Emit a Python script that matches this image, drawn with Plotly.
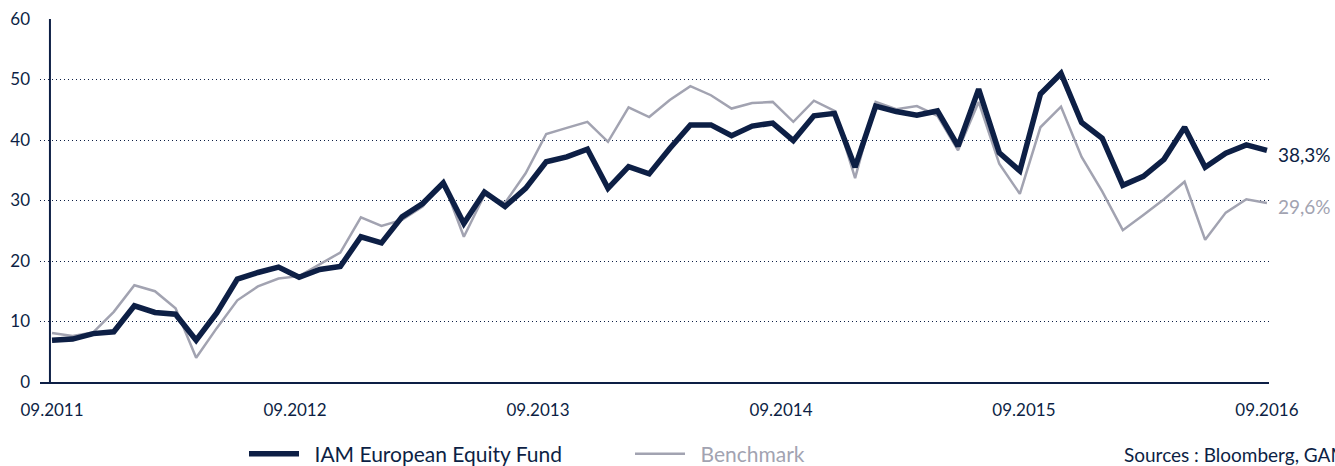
import plotly.graph_objects as go

# ---- data ----
fund = [6.9, 7.1, 8.0, 8.3, 12.6, 11.5, 11.2, 6.9, 11.4, 17.0,
        18.1, 19.0, 17.3, 18.6, 19.1, 24.0, 23.0, 27.3, 29.5, 32.9,
        26.2, 31.4, 29.0, 32.0, 36.4, 37.2, 38.5, 32.0, 35.6, 34.4,
        38.6, 42.5, 42.5, 40.7, 42.3, 42.8, 39.9, 44.0, 44.4, 35.5,
        45.6, 44.7, 44.1, 44.8, 39.0, 48.4, 37.9, 34.9, 47.6, 51.0,
        42.9, 40.3, 32.5, 34.0, 36.8, 42.1, 35.5, 37.8, 39.2, 38.3]
benchmark = [8.1, 7.6, 8.2, 11.6, 16.0, 15.0, 12.2, 4.0, 8.9, 13.5,
             15.8, 17.1, 17.5, 19.5, 21.4, 27.2, 25.8, 26.8, 29.0, 33.1,
             24.0, 30.9, 29.6, 34.5, 41.0, 42.0, 43.0, 39.7, 45.4, 43.8,
             46.6, 48.9, 47.4, 45.2, 46.1, 46.3, 43.0, 46.5, 44.8, 33.7,
             46.3, 45.1, 45.6, 44.0, 38.3, 46.3, 36.1, 31.1, 42.1, 45.5,
             37.2, 31.5, 25.1, 27.6, 30.2, 33.1, 23.5, 28.0, 30.2, 29.6]
tick_labels = ["09.2011", "09.2012", "09.2013", "09.2014", "09.2015", "09.2016"]
y_ticks = [0, 10, 20, 30, 40, 50, 60]
series_names = ["IAM European Equity Fund", "Benchmark"]
source_text = "Sources\u202f: Bloomberg, GAM"

NAVY = "#0d1f45"
GREY = "#a2a3b1"
FONT = "Lato"

n = len(fund)
x = list(range(n))
tick_pos = [k * (n - 1) / (len(tick_labels) - 1) for k in range(len(tick_labels))]

W, H = 1335, 466
L, R, T, B = 40, 66, 19, 84
pw = W - L - R
ph = H - T - B

def px_x(p):
    return (p - L) / pw

def px_y(p):
    return (H - B - p) / ph

GAP = "\u2002"  # small gap between legend sample and its text

fig = go.Figure()
fig.add_trace(go.Scatter(
    x=x, y=benchmark, mode="lines",
    name=f"<span style='color:{GREY}'>{GAP}{series_names[1]}</span>",
    line=dict(color=GREY, width=2.5), legendrank=2, hoverinfo="skip"))
fig.add_trace(go.Scatter(
    x=x, y=fund, mode="lines", name=f"{GAP}{series_names[0]}",
    line=dict(color=NAVY, width=5.5), legendrank=1, hoverinfo="skip"))

def fmt(v):
    return f"{v:.1f}%".replace(".", ",")

fig.add_annotation(x=x[-1], y=fund[-1], xref="x", yref="y", text=fmt(fund[-1]),
                   showarrow=False, xanchor="left", yanchor="middle", xshift=9, yshift=-4,
                   font=dict(family=FONT, size=19, color=NAVY))
fig.add_annotation(x=x[-1], y=benchmark[-1], xref="x", yref="y", text=fmt(benchmark[-1]),
                   showarrow=False, xanchor="left", yanchor="middle", xshift=9, yshift=-4,
                   font=dict(family=FONT, size=19, color=GREY))
fig.add_annotation(x=px_x(1122), y=px_y(454), xref="paper", yref="paper", text=source_text,
                   showarrow=False, xanchor="left", yanchor="middle",
                   font=dict(family=FONT, size=19, color=NAVY))

# vertical axis line (slightly right of the grid start, as in the reference)
fig.add_shape(type="line", xref="x", yref="y", x0=-0.1, x1=-0.1, y0=0, y1=60,
              line=dict(color=NAVY, width=2), layer="above")

fig.update_layout(
    width=W, height=H,
    margin=dict(l=L, r=R, t=T, b=B, pad=0, autoexpand=False),
    paper_bgcolor="white", plot_bgcolor="white",
    showlegend=True,
    legend=dict(orientation="h", xref="container", yref="container",
                x=244 / W, xanchor="left",
                y=(H - 454) / H, yanchor="middle",
                itemwidth=50,
                font=dict(family=FONT, size=21, color=NAVY),
                entrywidth=321, entrywidthmode="pixels",
                bgcolor="rgba(0,0,0,0)", borderwidth=0),
    xaxis=dict(range=[-0.583, 59.1], tickmode="array", tickvals=tick_pos, ticktext=tick_labels,
               showgrid=False, zeroline=False, showline=True, linecolor=NAVY, linewidth=2,
               ticks="", ticklabelstandoff=12, automargin=False,
               tickfont=dict(family=FONT, size=17, color=NAVY), fixedrange=True),
    yaxis=dict(range=[0, 60], tickmode="array", tickvals=y_ticks,
               showgrid=True, gridcolor=NAVY, gridwidth=1, griddash="1px,3px",
               zeroline=False, showline=False, ticks="", ticklabelstandoff=9, automargin=False,
               tickfont=dict(family=FONT, size=17, color=NAVY), fixedrange=True),
)

fig.write_html("out.html", config={"displayModeBar": False},
               post_script="document.body.style.margin='0';document.body.style.overflow='hidden';")
